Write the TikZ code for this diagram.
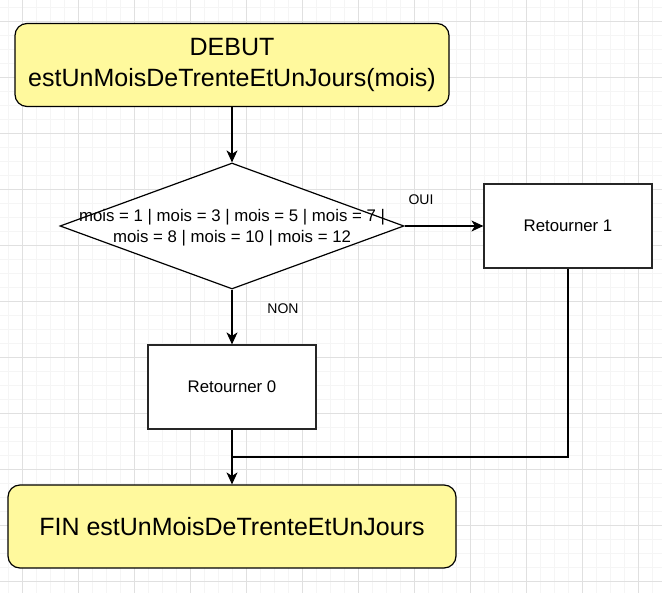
\documentclass[tikz,border=0pt]{standalone}
\usepackage{fontspec}
\setmainfont{Liberation Sans}
\usetikzlibrary{arrows.meta,shapes.geometric}
\definecolor{termfill}{RGB}{255,249,157}
\definecolor{minorgrid}{RGB}{245,245,245}
\definecolor{majorgrid}{RGB}{224,224,224}

\begin{document}
\begin{tikzpicture}[x=1pt,y=-1pt,
    terminal/.style={
% The shape:
rectangle, rounded corners=12pt,
% The size:
minimum width=434pt, minimum height=83pt,
% The border:
line width=1.2pt, draw=black, fill=termfill,
% The text:
font=\fontsize{25}{31}\selectfont, align=center,
},
    action/.style={
% The shape:
rectangle,
% The size:
minimum width=168pt, minimum height=84pt,
% The border:
line width=1.2pt, draw=black!85, fill=white,
% The text:
font=\fontsize{16.8}{20}\selectfont,
},
    test/.style={
% The shape:
diamond,
% The size:
minimum width=344pt, minimum height=126pt, inner sep=0pt,
% The border:
line width=1.2pt, draw=black, fill=white,
},
    testtext/.style={
font=\fontsize{16.8}{21}\selectfont, align=center, inner sep=0pt,
},
    flowlabel/.style={
font=\fontsize{14}{16}\selectfont, inner sep=0pt,
},
    flow/.style={
line width=1.2pt, draw=black,
-{Stealth[length=12pt,width=11pt,inset=3.5pt]},
},
]
  \useasboundingbox (0,0) rectangle (662,593);
  % grid
  \foreach \gx in {8,22,...,652}
    \draw[minorgrid, line width=1pt] (\gx,0) -- (\gx,593);
  \foreach \gy in {8,22,...,582}
    \draw[minorgrid, line width=1pt] (0,\gy) -- (662,\gy);
  \foreach \gx in {22,78,...,638}
    \draw[majorgrid, line width=1pt] (\gx,0) -- (\gx,593);
  \foreach \gy in {22,78,...,582}
    \draw[majorgrid, line width=1pt] (0,\gy) -- (662,\gy);

  \node[terminal]                      (debut) at (232, 65)
    {DEBUT\\estUnMoisDeTrenteEtUnJours(mois)};
  \node[test]                          (cond) at (232, 226) {};
  \node[testtext]                      (condtext) at (232, 227.5)
    {mois = 1 | mois = 3 | mois = 5 | mois = 7 |\\mois = 8 | mois = 10 | mois = 12};
  \node[action]                        (ret1) at (568, 226) {Retourner 1};
  \node[action]                        (ret0) at (232, 387) {Retourner 0};
  \node[terminal, minimum width=448pt] (fin) at (232, 526.5)
    {FIN estUnMoisDeTrenteEtUnJours};
  \node[flowlabel]                     (oui) at (421, 200) {OUI};
  \node[flowlabel]                     (non) at (283, 309) {NON};
  \coordinate                          (join) at (232, 457);

  \draw [flow] (debut) -- (cond);
  \draw [flow] (cond) -- (ret1);
  \draw [flow] (cond) -- (ret0);
  \draw [flow] (ret0) -- (fin);
  \draw [line width=1.2pt] (ret1) |- (join);

\end{tikzpicture}
\end{document}
